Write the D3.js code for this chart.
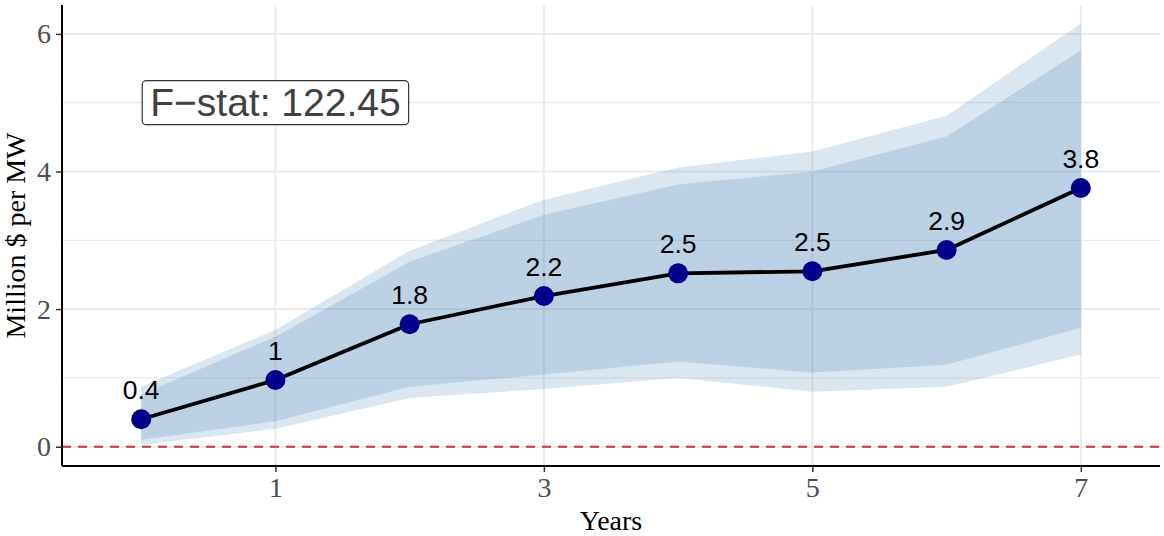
<!DOCTYPE html>
<html>
<head>
<meta charset="utf-8">
<script src="https://cdn.jsdelivr.net/npm/d3@7"></script>
<style>
  body { margin: 0; background: #fff; }
  svg { display: block; }
</style>
</head>
<body>
<svg></svg>
<script>
// Data
const years = [0, 1, 2, 3, 4, 5, 6, 7]
const estimate = [0.40, 0.97, 1.78, 2.19, 2.52, 2.55, 2.86, 3.76]
const pointLabels = ['0.4', '1', '1.8', '2.2', '2.5', '2.5', '2.9', '3.8']
const outerUpper = [0.87, 1.70, 2.85, 3.59, 4.06, 4.29, 4.81, 6.15]
const innerUpper = [0.76, 1.60, 2.69, 3.37, 3.81, 4.00, 4.51, 5.76]
const innerLower = [0.10, 0.37, 0.87, 1.05, 1.24, 1.08, 1.19, 1.73]
const outerLower = [0.03, 0.26, 0.71, 0.84, 1.00, 0.80, 0.87, 1.34]
const xTicks = [1, 3, 5, 7]
const yTicks = [0, 2, 4, 6]
const yMinor = [1, 3, 5]
const fStat = 'F\u2212stat: 122.45'

const width = 1164
const height = 536
const svg = d3.select('svg').attr('width', width).attr('height', height)

const plotLeft = 62, plotRight = 1160, plotTop = 5, plotBottom = 466

const xScale = d3.scaleLinear().domain([-0.59, 7.59]).range([plotLeft, plotRight])
const yScale = d3.scaleLinear().domain([-0.28, 6.42]).range([plotBottom, plotTop])

const rows = years.map((yr, i) => ({
    yr, est: estimate[i], lab: pointLabels[i],
    ou: outerUpper[i], iu: innerUpper[i], il: innerLower[i], ol: outerLower[i]
}))

// grid
const grid = svg.append('g')
grid.selectAll('.ymin').data(yMinor).enter().append('line')
    .attr('x1', plotLeft).attr('x2', plotRight)
    .attr('y1', d => yScale(d)).attr('y2', d => yScale(d))
    .attr('stroke', '#ebebeb').attr('stroke-width', 1.2)
grid.selectAll('.ymaj').data(yTicks).enter().append('line')
    .attr('x1', plotLeft).attr('x2', plotRight)
    .attr('y1', d => yScale(d)).attr('y2', d => yScale(d))
    .attr('stroke', '#ebebeb').attr('stroke-width', 2)
grid.selectAll('.xmaj').data(xTicks).enter().append('line')
    .attr('y1', plotTop).attr('y2', plotBottom)
    .attr('x1', d => xScale(d)).attr('x2', d => xScale(d))
    .attr('stroke', '#ebebeb').attr('stroke-width', 2)

// bands
const outerArea = d3.area().x(d => xScale(d.yr)).y0(d => yScale(d.ol)).y1(d => yScale(d.ou))
const innerArea = d3.area().x(d => xScale(d.yr)).y0(d => yScale(d.il)).y1(d => yScale(d.iu))
svg.append('path').datum(rows).attr('d', outerArea)
    .attr('fill', '#4682b4').attr('fill-opacity', 0.2)
svg.append('path').datum(rows).attr('d', innerArea)
    .attr('fill', '#4682b4').attr('fill-opacity', 0.2)

// zero reference line
svg.append('line')
    .attr('x1', plotLeft).attr('x2', plotRight)
    .attr('y1', yScale(0)).attr('y2', yScale(0))
    .attr('stroke', '#c8363a').attr('stroke-width', 2)
    .attr('stroke-dasharray', '9,7')

// line and points
const line = d3.line().x(d => xScale(d.yr)).y(d => yScale(d.est))
svg.append('path').datum(rows).attr('d', line)
    .attr('fill', 'none').attr('stroke', '#000').attr('stroke-width', 3.8)
    .attr('stroke-linejoin', 'round')

svg.selectAll('circle').data(rows).enter().append('circle')
    .attr('cx', d => xScale(d.yr)).attr('cy', d => yScale(d.est))
    .attr('r', 10).attr('fill', '#00008b')

svg.selectAll('.plab').data(rows).enter().append('text')
    .attr('x', d => xScale(d.yr)).attr('y', d => yScale(d.est) - 20)
    .attr('text-anchor', 'middle')
    .attr('font-family', 'Liberation Sans, Arial, sans-serif')
    .attr('font-size', 26.5).attr('fill', '#000')
    .text(d => d.lab)

// F-stat label
const fg = svg.append('g')
const fText = fg.append('text')
    .attr('x', xScale(1)).attr('y', yScale(5) + 13.5)
    .attr('text-anchor', 'middle')
    .attr('font-family', 'Liberation Sans, Arial, sans-serif')
    .attr('font-size', 39).attr('fill', '#404040')
    .text(fStat)
const bb = fText.node().getBBox()
fg.insert('rect', 'text')
    .attr('x', bb.x - 8).attr('y', yScale(5) - 22)
    .attr('width', bb.width + 16).attr('height', 44)
    .attr('rx', 4).attr('ry', 4)
    .attr('fill', '#fff').attr('stroke', '#333').attr('stroke-width', 1.2)

// axes
const xAxis = d3.axisBottom(xScale).tickValues(xTicks).tickSize(6).tickPadding(5).tickFormat(d3.format('d'))
const yAxis = d3.axisLeft(yScale).tickValues(yTicks).tickSize(6).tickPadding(5).tickFormat(d3.format('d'))

const gx = svg.append('g').attr('transform', `translate(0,${plotBottom})`).call(xAxis)
const gy = svg.append('g').attr('transform', `translate(${plotLeft},0)`).call(yAxis)
gx.select('.domain').attr('d', `M${plotLeft},0H${plotRight}`)
gy.select('.domain').attr('d', `M0,${plotTop}V${plotBottom}`)
;[gx, gy].forEach(g => {
    g.select('.domain').attr('stroke', '#000').attr('stroke-width', 2)
    g.selectAll('.tick line').attr('stroke', '#333').attr('stroke-width', 1.5)
    g.selectAll('.tick text')
        .attr('font-family', 'Liberation Serif, Times New Roman, serif')
        .attr('font-size', 28).attr('fill', '#4d4d4d')
})

// titles
svg.append('text')
    .attr('x', (plotLeft + plotRight) / 2).attr('y', 530)
    .attr('text-anchor', 'middle')
    .attr('font-family', 'Liberation Serif, Times New Roman, serif')
    .attr('font-size', 28).attr('fill', '#000')
    .text('Years')

svg.append('text')
    .attr('transform', `translate(25,${(plotTop + plotBottom) / 2}) rotate(-90)`)
    .attr('text-anchor', 'middle')
    .attr('font-family', 'Liberation Serif, Times New Roman, serif')
    .attr('font-size', 28).attr('fill', '#000')
    .text('Million $ per MW')
</script>
</body>
</html>
